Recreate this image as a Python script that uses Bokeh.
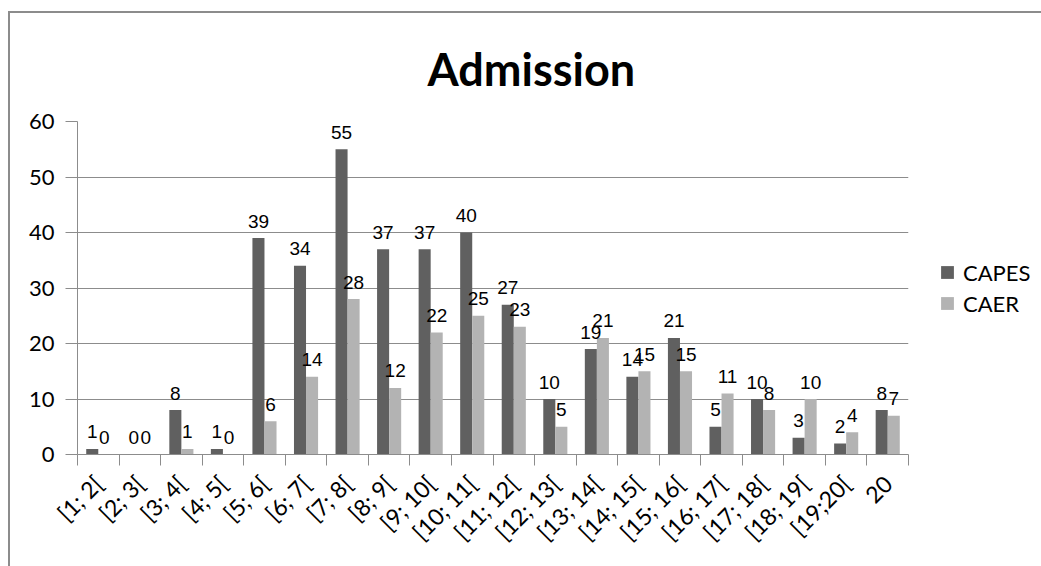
import math
from bokeh.plotting import figure
from bokeh.models import ColumnDataSource, Range1d, FixedTicker, Legend, LegendItem
from bokeh.transform import dodge
from bokeh.core.properties import value
from bokeh.embed import file_html
from bokeh.resources import INLINE

categories = ["[1; 2[", "[2; 3[", "[3; 4[", "[4; 5[", "[5; 6[", "[6; 7[", "[7; 8[",
              "[8; 9[", "[9; 10[", "[10; 11[", "[11; 12[", "[12; 13[", "[13; 14[",
              "[14; 15[", "[15; 16[", "[16; 17[", "[17; 18[", "[18; 19[", "[19;20[", "20"]
capes = [1, 0, 8, 1, 39, 34, 55, 37, 37, 40, 27, 10, 19, 14, 21, 5, 10, 3, 2, 8]
caer = [0, 0, 1, 0, 6, 14, 28, 12, 22, 25, 23, 5, 21, 15, 15, 11, 8, 10, 4, 7]
y_ticks = [0, 10, 20, 30, 40, 50, 60]
series_names = ["CAPES", "CAER"]
series_colors = ["#606060", "#b3b3b3"]

pos = [i + 0.5 for i in range(len(categories))]
source = ColumnDataSource(dict(
    pos=pos, capes=capes, caer=caer,
    capes_lbl=[str(v) for v in capes], caer_lbl=[str(v) for v in caer],
))

GRAY = "#8c8c8c"

p = figure(frame_width=831, frame_height=333, output_backend="svg", toolbar_location=None,
           x_range=Range1d(0, len(categories)), y_range=Range1d(y_ticks[0], y_ticks[-1]),
           min_border_left=67, min_border_right=133, min_border_top=108, min_border_bottom=112,
           title="Admission")
p.styles = {"margin-left": "8px", "margin-top": "11px",
            "border-left": "2px solid #8c8c8c", "border-top": "2px solid #8c8c8c"}
p.outline_line_color = None
p.background_fill_color = "white"
p.border_fill_color = "white"

p.title.text_font = "Lato"
p.title.text_font_style = "bold"
p.title.text_font_size = "45px"
p.title.align = "left"
p.title.offset = 350
p.title.standoff = 52
p.title.text_color = "black"

bw = 0.29
r1 = p.vbar(x=dodge("pos", -bw / 2, range=p.x_range), top="capes", width=bw, bottom=0,
            source=source, fill_color=series_colors[0], line_color=None)
r2 = p.vbar(x=dodge("pos", bw / 2, range=p.x_range), top="caer", width=bw, bottom=0,
            source=source, fill_color=series_colors[1], line_color=None)

for col, off in (("capes", -bw / 2), ("caer", bw / 2)):
    p.text(x=dodge("pos", off, range=p.x_range), y=col, text=col + "_lbl", source=source,
           text_align="center", text_baseline="alphabetic", y_offset=-17,
           text_font=value("Liberation Sans Narrow, Liberation Sans, sans-serif"),
           text_font_size="19px", text_color="black")

# x axis
xa = p.xaxis[0]
xa.ticker = FixedTicker(ticks=pos, minor_ticks=list(range(len(categories) + 1)))
xa.major_label_overrides = {pt: lab for pt, lab in zip(pos, categories)}
xa.major_tick_out = 0
xa.major_tick_in = 0
xa.minor_tick_out = 11
xa.minor_tick_in = 0
xa.minor_tick_line_color = GRAY
xa.axis_line_color = GRAY
xa.major_label_orientation = math.pi / 4
xa.major_label_text_font = "Lato"
xa.major_label_text_font_size = "23px"
xa.major_label_text_color = "black"
xa.major_label_standoff = 14

ya = p.yaxis[0]
ya.ticker = FixedTicker(ticks=y_ticks, minor_ticks=[])
ya.major_tick_out = 12
ya.major_tick_in = 0
ya.major_tick_line_color = GRAY
ya.axis_line_color = GRAY
ya.major_label_text_font = "Lato"
ya.major_label_text_font_size = "22px"
ya.major_label_text_color = "black"
ya.major_label_standoff = 11

p.xgrid.visible = False
p.ygrid.ticker = FixedTicker(ticks=y_ticks)
p.ygrid.grid_line_color = GRAY

legend = Legend(items=[LegendItem(label=series_names[0], renderers=[r1]),
                       LegendItem(label=series_names[1], renderers=[r2])],
                location="center_left", orientation="vertical")
legend.border_line_color = None
legend.background_fill_alpha = 0
legend.margin = 31
legend.padding = 0
legend.glyph_width = 16
legend.glyph_height = 16
legend.label_height = 16
legend.spacing = 4
legend.label_standoff = 8
legend.label_text_font = "Lato"
legend.label_text_font_size = "22px"
legend.label_text_color = "black"
p.add_layout(legend, "right")

open("out.html", "w").write(file_html(p, INLINE))
